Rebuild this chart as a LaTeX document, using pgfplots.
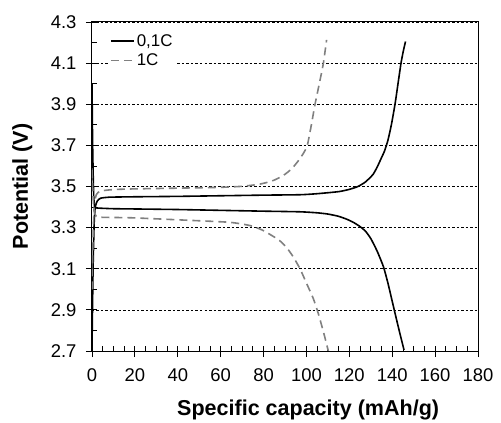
\documentclass[border=0pt]{standalone}
\usepackage{fontspec}
\setmainfont{Liberation Sans}
\usepackage{pgfplots}
\pgfplotsset{compat=1.18}
\definecolor{dgray}{RGB}{128,128,128}
\begin{document}
\begin{tikzpicture}
\begin{axis}[
  scale only axis, width=386bp, height=329bp,
  xmin=0, xmax=180, ymin=2.7, ymax=4.3,
  xtick={0,20,...,180}, ytick={2.7,2.9,...,4.31},
  minor x tick num=3, minor y tick num=1,
  tick align=inside, major tick length=11bp, minor tick length=5bp,
  every major x tick/.append style={yshift=-6bp},
  every major y tick/.append style={xshift=-6bp},
  tick style={black, line width=0.8bp},
  xtick pos=bottom, ytick pos=left,
  axis line style={black, line width=1bp},
  ymajorgrids,
  major grid style={black, line width=0.6bp, dash pattern=on 2.5bp off 2bp},
  /pgf/number format/assume math mode=true,
  yticklabel={\pgfmathprintnumber[fixed,precision=1,fixed zerofill]{\tick}},
  ticklabel style={font=\fontsize{18.5}{20}\selectfont},
  yticklabel style={xshift=-12bp},
  xticklabel style={yshift=-14bp},
  xlabel={Specific capacity (mAh/g)},
  ylabel={Potential (V)},
  every axis x label/.style={at={(rel axis cs:0.56,0)}, anchor=base, yshift=-64bp,
    font=\fontsize{21.6}{24}\selectfont\bfseries},
  every axis y label/.style={at={(rel axis cs:0,0.5)}, xshift=-64bp, rotate=90, anchor=base,
    font=\fontsize{21.6}{24}\selectfont\bfseries},
  legend style={draw=none, fill=white, at={(rel axis cs:0,1)}, anchor=north west,
    xshift=16bp, yshift=-9bp, font=\fontsize{17}{18}\selectfont,
    inner xsep=2bp, inner ysep=1bp, row sep=2.5bp},
  legend cell align=left,
  legend image code/.code={\draw[#1] (0bp,0bp) -- (23bp,0bp);},
]
\addplot[black, line width=1.6bp, smooth, tension=0.35] coordinates {
(0,2.72)(0.5,3.1)(1,3.32)(1.5,3.40)(2.5,3.43)(4,3.443)(8,3.448)(20,3.450)(40,3.452)
(60,3.455)(80,3.458)(97,3.460)(105,3.465)(115,3.475)(120,3.486)(124,3.50)(127.5,3.522)
(131,3.558)(133,3.595)(135,3.64)(136.5,3.675)(138,3.725)(139.6,3.80)(141.3,3.90)(142.7,4.00)
(144.1,4.10)(145.2,4.16)(146.2,4.205)};
\addlegendentry{0,1C}
\addplot[dgray, line width=1.6bp, dash pattern=on 8bp off 5bp, smooth, tension=0.35] coordinates {
(0,3.0)(0.5,3.25)(1,3.4)(2,3.46)(4,3.478)(10,3.485)(18,3.488)(40,3.492)(60,3.496)
(70,3.501)(78,3.511)(84,3.527)(89,3.552)(93,3.585)(96,3.622)(98.5,3.66)(100.4,3.70)(102.3,3.80)
(104,3.90)(106,4.00)(107.9,4.10)(109.4,4.213)};
\addlegendentry{1C}
\addplot[black, line width=1.6bp, forget plot, smooth, tension=0.35] coordinates {
(0,4.0)(0.3,3.7)(0.8,3.45)(1.5,3.40)(3,3.395)(10,3.392)(18,3.391)(40,3.388)(60,3.384)
(80,3.38)(97,3.377)(105,3.372)(110,3.366)(115,3.355)(119,3.340)(122,3.325)(125,3.305)
(127.5,3.283)(130,3.247)(133,3.185)(135.9,3.11)(138,3.03)(140.6,2.915)
(143,2.81)(145.5,2.705)};
\addplot[dgray, line width=1.6bp, dash pattern=on 8bp off 5bp, forget plot, smooth, tension=0.35] coordinates {
(0,3.58)(0.5,3.45)(1,3.38)(2,3.355)(5,3.35)(18,3.348)(40,3.338)(64,3.326)(73.7,3.31)
(79,3.29)(83,3.267)(87.5,3.237)(91,3.2)(94,3.155)(97,3.10)(100,3.03)(103.2,2.955)
(105.5,2.883)(108,2.79)(110.2,2.70)};
\end{axis}
\path (current axis.south west) ++(-92bp,-69bp) coordinate (bbA);
\path (current axis.north east) ++(23bp,22bp) coordinate (bbB);
\useasboundingbox (bbA) rectangle (bbB);
\end{tikzpicture}
\end{document}
